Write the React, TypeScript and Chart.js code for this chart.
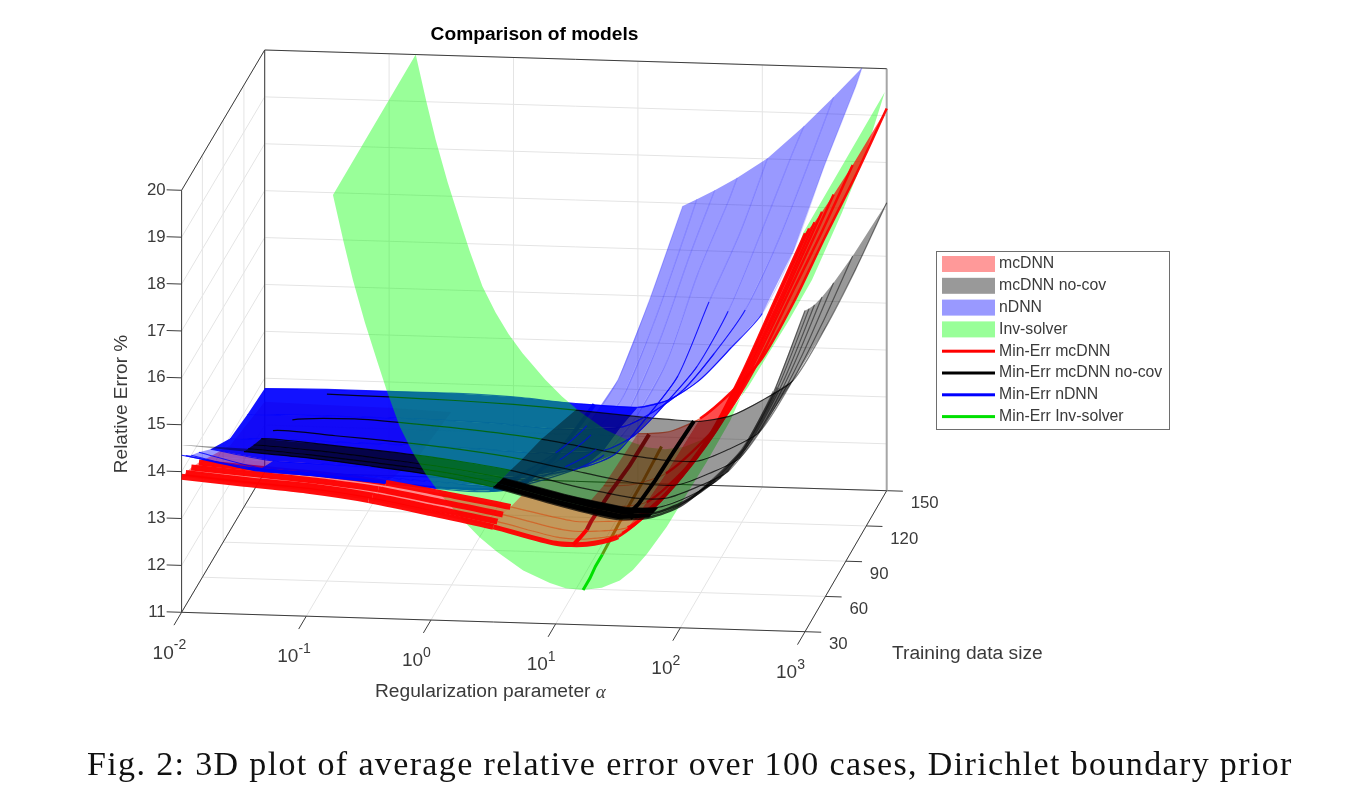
import {useEffect, useRef} from "react";
import {Chart, registerables} from "chart.js";

Chart.register(...registerables);

// axes
const alphaTicks = [-2, -1, 0, 1, 2, 3];
const sizeTicks = [30, 60, 90, 120, 150];
const errorTicks = [11, 12, 13, 14, 15, 16, 17, 18, 19, 20];

// log10(alpha) columns shared by the DNN surfaces
const alphaGrid = [-2, -1.5, -1, -0.5, 0, 0.5, 1, 1.25, 1.5, 1.75, 2, 2.25, 2.5, 2.75, 3];

// mcDNN
const mcSizes = [30, 36, 44, 55, 72, 100, 150];
const mc30 = [13.89, 13.78, 13.68, 13.52, 13.28, 13.03, 12.72, 12.72, 12.9, 13.45, 14.25, 15.2, 16.5, 18.0, 19.5];
const mc36 = [13.82, 13.71, 13.62, 13.46, 13.23, 12.99, 12.69, 12.69, 12.83, 13.38, 14.17, 15.17, 16.48, 17.96, 19.45];
const mc44 = [13.74, 13.64, 13.54, 13.4, 13.17, 12.94, 12.65, 12.65, 12.75, 13.3, 14.09, 15.1, 16.43, 17.88, 19.38];
const mc55 = [13.57, 13.48, 13.4, 13.26, 13.05, 12.83, 12.57, 12.58, 12.67, 13.23, 14.01, 15.05, 16.4, 17.84, 19.33];
const mc72 = [13.28, 13.2, 13.14, 13.03, 12.85, 12.66, 12.43, 12.46, 12.59, 13.16, 13.93, 15.02, 16.38, 17.8, 19.27];
const mc100 = [12.81, 12.76, 12.72, 12.65, 12.52, 12.37, 12.2, 12.25, 12.5, 13.08, 13.84, 14.98, 16.36, 17.74, 19.2];
const mc150 = [12.5, 12.47, 12.45, 12.4, 12.3, 12.18, 12.06, 12.12, 12.42, 13.0, 13.75, 14.95, 16.35, 17.7, 19.15];

// mcDNN no-cov
const noCov30 = [14.57, 14.47, 14.38, 14.25, 14.1, 13.88, 13.55, 13.4, 13.28, 13.33, 13.6, 14.15, 14.85, 16.1, 17.85];
const noCov36 = [14.42, 14.38, 14.29, 14.17, 14.03, 13.81, 13.49, 13.35, 13.23, 13.27, 13.54, 14.02, 14.78, 16.04, 17.74];
const noCov44 = [14.22, 14.26, 14.18, 14.06, 13.92, 13.72, 13.41, 13.28, 13.17, 13.2, 13.46, 13.88, 14.71, 15.97, 17.62];
const noCov55 = [13.96, 14.12, 14.04, 13.93, 13.8, 13.61, 13.32, 13.2, 13.1, 13.12, 13.38, 13.74, 14.63, 15.91, 17.51];
const noCov72 = [13.52, 13.87, 13.8, 13.71, 13.59, 13.42, 13.17, 13.05, 12.97, 12.98, 13.24, 13.6, 14.56, 15.84, 17.39];
const noCov100 = [12.96, 13.4, 13.46, 13.39, 13.29, 13.15, 12.94, 12.85, 12.78, 12.78, 13.05, 13.44, 14.48, 15.77, 17.26];
const noCov150 = [12.72, 12.7, 12.68, 12.65, 12.6, 12.52, 12.42, 12.38, 12.36, 12.5, 12.85, 13.3, 14.4, 15.7, 17.14];

// nDNN, null once the row has left the z box; ndnnTop is where it hits 20
const ndnnSizes = [30, 36, 44, 55, 72, 100, 125, 150];
const ndnnTop = [2.02, 2.1, 2.2, 2.32, 2.47, 2.61, 2.71, 2.8];
const ndnn30 = [14.35, 14.15, 14.05, 13.95, 13.85, 13.85, 14.65, 15.25, 16.25, 17.95, 19.85, null, null, null, null];
const ndnn36 = [14.19, 13.95, 13.85, 13.75, 13.66, 13.65, 14.35, 14.9, 15.7, 17.3, 19.2, null, null, null, null];
const ndnn44 = [14.0, 13.72, 13.65, 13.56, 13.48, 13.45, 14.0, 14.4, 15.2, 16.7, 18.6, null, null, null, null];
const ndnn55 = [13.79, 13.49, 13.43, 13.37, 13.3, 13.25, 13.65, 14.0, 14.8, 16.0, 17.9, 19.5, null, null, null];
const ndnn72 = [13.43, 13.22, 13.18, 13.14, 13.08, 13.03, 13.3, 13.6, 14.4, 15.3, 16.9, 18.4, null, null, null];
const ndnn100 = [12.96, 12.97, 12.95, 12.93, 12.9, 12.85, 12.95, 13.3, 14.0, 14.8, 16.0, 17.6, 19.3, null, null];
const ndnn125 = [12.85, 12.87, 12.87, 12.86, 12.82, 12.74, 12.82, 13.15, 13.65, 14.45, 15.4, 16.8, 18.5, null, null];
const ndnn150 = [12.78, 12.8, 12.8, 12.8, 12.76, 12.66, 12.62, 12.8, 13.25, 13.95, 14.7, 16.05, 17.9, 19.6, null];

// Inv-solver does not depend on the training size
const invSizes = [30, 150];
const invAlpha = [-0.786, -0.7, -0.626, -0.53, -0.433, -0.353, -0.25, -0.144, -0.04, 0.073, 0.256, 0.39, 0.529, 0.74, 0.954, 1.08, 1.218, 1.37, 1.515, 1.62, 1.732, 1.89, 2.05, 2.21, 2.4, 2.64, 2.82, 2.985];
const invError = [20, 19.0, 18.2, 17.3, 16.5, 15.85, 15.1, 14.55, 14.1, 13.7, 13.15, 12.8, 12.5, 12.12, 11.87, 11.77, 11.74, 11.8, 11.97, 12.2, 12.55, 13.14, 13.85, 14.55, 15.45, 16.9, 18.1, 19.5];

// minimum error tracks
const minSizes = [30, 40, 50, 60, 90, 120, 150];
const minMcAlpha = [1.14, 1.14, 1.14, 1.12, 1.1, 1.1, 1.09];
const minMcError = [12.7, 12.6, 12.52, 12.45, 12.28, 12.14, 12.05];
const minNoCovAlpha = [1.62, 1.55, 1.5, 1.5, 1.47, 1.45, 1.45];
const minNoCovError = [13.3, 13.1, 12.95, 12.85, 12.6, 12.45, 12.36];
const minNdnnAlpha = [0.47, 0.5, 0.55, 0.6, 0.65, 0.65, 0.65];
const minNdnnError = [13.82, 13.6, 13.4, 13.25, 12.98, 12.8, 12.65];
const minInvAlpha = [1.22, 1.22, 1.21, 1.21, 1.2, 1.2, 1.19];
const minInvError = [11.74, 11.74, 11.75, 11.75, 11.77, 11.78, 11.8];

const legendNames = ["mcDNN", "mcDNN no-cov", "nDNN", "Inv-solver", "Min-Err mcDNN", "Min-Err mcDNN no-cov", "Min-Err nDNN", "Min-Err Inv-solver"];
const legendColors = ["#ff9999", "#999999", "#9999ff", "#99ff99", "#ff0000", "#000000", "#0000ff", "#00e000"];

const lerp = (p: number, q: number, t: number) => p + (q - p) * t;
const clear = "rgba(0,0,0,0)";

// MATLAB view of the box: floor corners plus a constant height in pixels
function project(alpha: number, size: number, error: number) {
    const u = (alpha + 2) / 5;
    const v = (size - 30) / 120;
    const w = (error - 11) / 9;
    return {
        x: lerp(lerp(181.6, 805, u), lerp(264.7, 886.7, u), v),
        y: lerp(lerp(612.3, 631.7, u), lerp(472, 490.7, u), v) - 422 * w,
    };
}

function boxLine(from: number[], to: number[], color: string, width: number) {
    return {
        data: [project(from[0], from[1], from[2]), project(to[0], to[1], to[2])],
        borderColor: color,
        borderWidth: width,
        showLine: true,
        pointRadius: 0,
    };
}

function buildBox() {
    const grid = "#e4e4e4";
    const dark = "#3c3c3c";
    const sets: any[] = [];
    alphaTicks.forEach((a) => {
        sets.push(boxLine([a, 30, 11], [a, 150, 11], grid, 1));
        sets.push(boxLine([a, 150, 11], [a, 150, 20], grid, 1));
    });
    sizeTicks.forEach((n) => {
        sets.push(boxLine([-2, n, 11], [3, n, 11], grid, 1));
        sets.push(boxLine([-2, n, 11], [-2, n, 20], grid, 1));
    });
    errorTicks.forEach((z) => {
        sets.push(boxLine([-2, 150, z], [3, 150, z], grid, 1));
        sets.push(boxLine([-2, 30, z], [-2, 150, z], grid, 1));
        sets.push(boxLine([-2.12, 30, z], [-2, 30, z], dark, 1));
    });
    alphaTicks.forEach((a) => sets.push(boxLine([a, 19, 11], [a, 30, 11], dark, 1)));
    sizeTicks.forEach((n) => sets.push(boxLine([3, n, 11], [3.13, n, 11], dark, 1)));
    sets.push(boxLine([3, 150, 11], [3, 150, 20], "#a6a6a6", 2));
    sets.push(boxLine([-2, 30, 11], [3, 30, 11], dark, 1));
    sets.push(boxLine([3, 30, 11], [3, 150, 11], dark, 1));
    sets.push(boxLine([-2, 150, 11], [3, 150, 11], dark, 1));
    sets.push(boxLine([-2, 30, 11], [-2, 150, 11], dark, 1));
    sets.push(boxLine([-2, 30, 11], [-2, 30, 20], dark, 1));
    sets.push(boxLine([-2, 150, 11], [-2, 150, 20], dark, 1));
    sets.push(boxLine([-2, 30, 20], [-2, 150, 20], dark, 1));
    sets.push(boxLine([-2, 150, 20], [3, 150, 20], dark, 1));
    return sets;
}

type Shade = (a: number, row: number) => string;

// one line dataset per training size, each one also fills the strip up to the next row
function surface(alphas: number[], sizes: number[], rows: (number | null)[][], fillAt: Shade, lineAt: Shade, widthAt: (a: number, row: number) => number, tops?: number[]) {
    return sizes.map((n, r) => {
        const pts: any[] = [];
        rows[r].forEach((z, i) => {
            if (z !== null) pts.push({...project(alphas[i], n, z), a: alphas[i]});
        });
        if (tops) pts.push({...project(tops[r], n, 20), a: tops[r]});
        return {
            data: pts,
            borderColor: clear,
            borderWidth: 1,
            tension: 0.25,
            showLine: true,
            pointRadius: 0,
            stripRow: r,
            stripFill: r < sizes.length - 1 ? fillAt : null,
            segment: {
                borderWidth: (ctx: any) => widthAt(pts[ctx.p0DataIndex].a, r),
                borderColor: (ctx: any) => lineAt(pts[ctx.p0DataIndex].a, r),
            },
        };
    });
}

function track(alphas: number[], sizes: number[], errors: number[], color: string, rear: string, splitAt: number, width: number) {
    return {
        data: sizes.map((n, i) => project(alphas[i], n, errors[i])),
        borderColor: color,
        borderWidth: width,
        showLine: true,
        pointRadius: 0,
        segment: {
            borderColor: (ctx: any) => (ctx.p0DataIndex >= splitAt ? rear : color),
        },
    };
}

function power(ctx: CanvasRenderingContext2D, exp: string, x: number, y: number) {
    ctx.font = '19px "Liberation Sans"';
    ctx.textAlign = "left";
    ctx.fillText("10", x, y);
    const w = ctx.measureText("10").width;
    ctx.font = '14px "Liberation Sans"';
    ctx.fillText(exp, x + w, y - 8);
}

// fills between a row and the next one, column by column so the shade can change along alpha
const stripPlugin = {
    id: "strips",
    beforeDatasetDraw(chart: any, args: any) {
        const ds = chart.data.datasets[args.index];
        if (!ds.stripFill) return;
        const ctx = chart.ctx;
        const p = args.meta.data;
        const q = chart.getDatasetMeta(args.index + 1).data;
        const last = Math.min(p.length, q.length) - 1;
        ctx.save();
        let i = 0;
        while (i < last) {
            const color = ds.stripFill(ds.data[i].a, ds.stripRow);
            let j = i + 1;
            while (j < last && ds.stripFill(ds.data[j].a, ds.stripRow) === color) j++;
            const pEnd = j === last ? p.length - 1 : j;
            const qEnd = j === last ? q.length - 1 : j;
            if (color !== clear) {
                ctx.fillStyle = color;
                ctx.beginPath();
                ctx.moveTo(p[i].x, p[i].y);
                for (let k = i + 1; k <= pEnd; k++) ctx.lineTo(p[k].x, p[k].y);
                for (let k = qEnd; k >= i; k--) ctx.lineTo(q[k].x, q[k].y);
                ctx.closePath();
                ctx.fill();
            }
            i = j;
        }
        ctx.restore();
    },
};

const labelPlugin = {
    id: "labels3d",
    afterDraw(chart: any) {
        const ctx = chart.ctx;
        const sx = chart.scales.x;
        const sy = chart.scales.y;
        const at = (a: number, n: number, z: number) => {
            const p = project(a, n, z);
            return {x: sx.getPixelForValue(p.x), y: sy.getPixelForValue(p.y)};
        };
        ctx.save();
        ctx.fillStyle = "#3a3a3a";
        ctx.textBaseline = "middle";

        ctx.font = '16.8px "Liberation Sans"';
        ctx.textAlign = "right";
        errorTicks.forEach((z) => {
            const p = at(-2, 30, z);
            ctx.fillText(String(z), p.x - 16, p.y);
        });
        ctx.textAlign = "left";
        sizeTicks.forEach((n) => {
            const p = at(3, n, 11);
            ctx.fillText(String(n), p.x + 24, p.y + 13);
        });
        alphaTicks.forEach((a) => {
            const p = at(a, 30, 11);
            power(ctx, String(a), p.x - 29, p.y + 41);
        });

        ctx.font = '19.2px "Liberation Sans"';
        ctx.textAlign = "left";
        ctx.fillText("Training data size", 892, 654);
        ctx.fillText("Regularization parameter ", 375, 692);
        const w = ctx.measureText("Regularization parameter ").width;
        ctx.font = 'italic 19px "Liberation Serif"';
        ctx.fillText("\u03b1", 375 + w, 693);

        ctx.save();
        ctx.translate(122, 404);
        ctx.rotate(-Math.PI / 2);
        ctx.textAlign = "center";
        ctx.font = '19px "Liberation Sans"';
        ctx.fillText("Relative Error %", 0, 0);
        ctx.restore();

        ctx.fillStyle = "#000000";
        ctx.font = 'bold 19.2px "Liberation Sans"';
        ctx.textAlign = "center";
        ctx.fillText("Comparison of models", 534.5, 35);

        // legend
        ctx.fillStyle = "#ffffff";
        ctx.fillRect(936.5, 251.5, 233, 178);
        ctx.strokeStyle = "#6e6e6e";
        ctx.lineWidth = 1;
        ctx.strokeRect(936.5, 251.5, 233, 178);
        ctx.textAlign = "left";
        ctx.font = '15.8px "Liberation Sans"';
        legendNames.forEach((name, i) => {
            const y = 264 + i * 21.8;
            ctx.fillStyle = legendColors[i];
            if (i < 4) ctx.fillRect(942, y - 8, 53, 16);
            else ctx.fillRect(942, y - 1.5, 53, 3);
            ctx.fillStyle = "#3a3a3a";
            ctx.fillText(name, 999, y);
        });
        ctx.restore();
    },
};

export default function App() {
    const canvas = useRef<HTMLCanvasElement>(null);

    useEffect(() => {
        const mcRows = [mc30, mc36, mc44, mc55, mc72, mc100, mc150];
        const noCovRows = [noCov30, noCov36, noCov44, noCov55, noCov72, noCov100, noCov150];
        const ndnnRows = [ndnn30, ndnn36, ndnn44, ndnn55, ndnn72, ndnn100, ndnn125, ndnn150];
        const noFill: Shade = () => clear;

        // red behind the blue band, only the low alpha part shows
        const redBackFill: Shade = (a) => (a < -0.5 ? "rgba(255,0,0,0.45)" : clear);
        const redBackLine: Shade = (a, r) => (a < -0.5 && r < 4 ? "rgba(255,0,0,0.95)" : clear);

        const blueFill: Shade = (a, r) => {
            if (a < -1.6 && r < 4) return "rgba(0,0,255,0.4)";
            if (a < 0.5 || (a < 1 && r >= 4)) return "rgba(0,0,255,0.93)";
            return "rgba(0,0,255,0.4)";
        };
        const blueLine: Shade = (a, r) => {
            if (a < 1.25 || (r >= 4 && a < 2)) return "rgba(0,0,255,0.85)";
            return "rgba(0,0,255,0.18)";
        };

        // low alpha part of the black sheet, tucked into the blue band
        const greyBackFill: Shade = (a, r) => {
            if (a < -1.6) return r === 0 ? "rgba(0,0,0,0.4)" : clear;
            return a < 0.5 && r < 3 ? "rgba(0,0,0,0.7)" : clear;
        };
        const greyBackLine: Shade = (a) => (a >= -1.5 && a < 0.5 ? "rgba(0,0,0,0.85)" : clear);

        // everything below sits in front of the Inv-solver sheet
        const redFill: Shade = (a, r) => {
            if (a < -0.5) return clear;
            if (a < 0.25) return r <= 2 ? "rgba(255,0,0,0.45)" : clear;
            if (a < 1) return r <= 3 ? "rgba(255,0,0,0.4)" : clear;
            return a >= 1.5 ? "rgba(255,0,0,0.7)" : "rgba(255,0,0,0.4)";
        };
        const redLine: Shade = (a, r) => {
            if (a < -0.5) return clear;
            if (a < 0.25) return r <= 3 ? "rgba(255,0,0,0.95)" : clear;
            if (r === 0 || a >= 1.5) return "rgba(255,0,0,0.95)";
            return a < 1 && r > 3 ? clear : "rgba(220,60,0,0.55)";
        };
        const redWidth = (a: number, r: number) => {
            if (a < 0.25) return 6;
            return a >= 1.5 ? 2.5 : r === 0 ? 5 : 1.2;
        };

        const greyFill: Shade = (a, r) => {
            if (a < 0.5) return clear;
            return a < 1.75 && r < 2 ? "#000000" : "rgba(0,0,0,0.4)";
        };
        const greyLine: Shade = (a) => (a < 0.5 ? clear : a >= 2.25 ? "rgba(0,0,0,0.5)" : "rgba(0,0,0,0.75)");
        const greyWidth = (a: number, r: number) => (a < 2.75 && r < 2 ? 2.5 : 1.2);

        const blueOver: Shade = (a, r) => (a >= 0.75 && (a < 1.25 || (r >= 4 && a < 1.75)) ? "rgba(0,0,255,0.6)" : clear);

        const sets: any[] = [
            ...buildBox(),
            ...surface(alphaGrid, mcSizes, mcRows, redBackFill, redBackLine, () => 6),
            ...surface(alphaGrid, ndnnSizes, ndnnRows, blueFill, blueLine, () => 1.2, ndnnTop),
            ...surface(alphaGrid, mcSizes, noCovRows, greyBackFill, greyBackLine, () => 1.2),
            track(minNdnnAlpha, minSizes, minNdnnError, "#0000ff", "#0000ff", 9, 4),
            ...surface(invAlpha, invSizes, [invError, invError], () => "rgba(0,255,0,0.4)", noFill, () => 1),
            track(minInvAlpha, minSizes, minInvError, "#00e000", "#5f9a10", 3, 3),
            ...surface(alphaGrid, mcSizes, mcRows, redFill, redLine, redWidth),
            track(minMcAlpha, minSizes, minMcError, "#ff0000", "#a81010", 2, 4),
            ...surface(alphaGrid, mcSizes, noCovRows, greyFill, greyLine, greyWidth),
            ...surface(alphaGrid, ndnnSizes, ndnnRows, noFill, blueOver, () => 1.2, ndnnTop),
            track(minNoCovAlpha, minSizes, minNoCovError, "#000000", "#000000", 9, 4),
        ];
        // later entries paint on top
        sets.forEach((s, i) => {
            s.order = sets.length - i;
        });

        const chart = new Chart(canvas.current as HTMLCanvasElement, {
            type: "scatter",
            data: {datasets: sets},
            plugins: [stripPlugin, labelPlugin],
            options: {
                animation: false,
                responsive: false,
                layout: {padding: 0},
                plugins: {legend: {display: false}, tooltip: {enabled: false}},
                scales: {
                    x: {type: "linear", min: 0, max: 1351, display: false},
                    y: {type: "linear", min: 0, max: 791, reverse: true, display: false},
                },
            },
        });
        return () => {
            chart.destroy();
        };
    }, []);

    return (
        <div style={{position: "absolute", left: 0, top: 0, width: 1351, height: 791, background: "#fff", overflow: "hidden"}}>
            <canvas ref={canvas} width={1351} height={791} style={{display: "block"}} />
            <div style={{position: "absolute", left: 87, top: 745, whiteSpace: "nowrap", font: '34px "Liberation Serif"', letterSpacing: "1.36px", color: "#111"}}>
                Fig. 2: 3D plot of average relative error over 100 cases, Dirichlet boundary prior
            </div>
        </div>
    );
}
